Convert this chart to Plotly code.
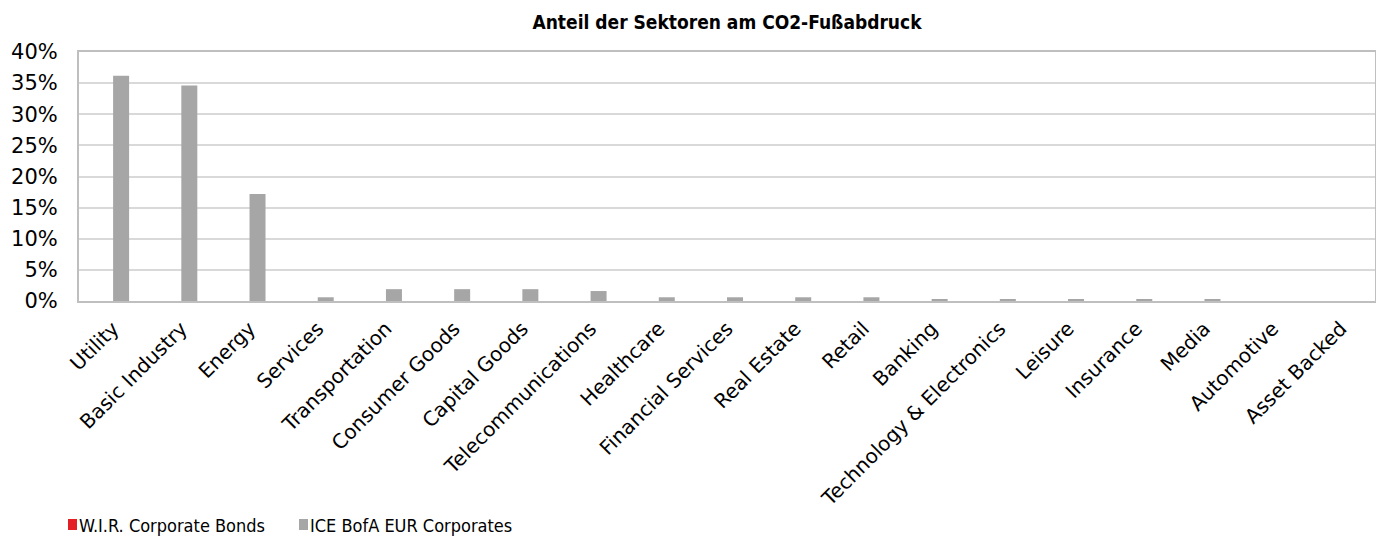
import plotly.graph_objects as go

categories = ["Utility", "Basic Industry", "Energy", "Services", "Transportation",
              "Consumer Goods", "Capital Goods", "Telecommunications", "Healthcare",
              "Financial Services", "Real Estate", "Retail", "Banking",
              "Technology & Electronics", "Leisure", "Insurance", "Media",
              "Automotive", "Asset Backed"]
wir_values = [0.0] * len(categories)
ice_values = [0.362, 0.346, 0.172, 0.006, 0.019, 0.019, 0.019, 0.016, 0.006,
              0.006, 0.006, 0.006, 0.002, 0.002, 0.002, 0.002, 0.002, 0.0, 0.0]
y_ticks = [0, 0.05, 0.10, 0.15, 0.20, 0.25, 0.30, 0.35, 0.40]
series_names = ["W.I.R. Corporate Bonds", "ICE BofA EUR Corporates"]
series_colors = ["#e31e24", "#a6a6a6"]

# page has an 8px body margin; figure sized so it fills the 1384x540 window
OFF = 8
W, H = 1384 - OFF, 540 - OFF
L, R, T, B = 79 - OFF, 9, 52 - OFF, 239
PW, PH = W - L - R, H - T - B

def px_x(px):
    return (px - OFF - L) / PW

def px_y(py):
    return (H - B - (py - OFF)) / PH

fig = go.Figure()
for name, vals, col in zip(series_names, [wir_values, ice_values], series_colors):
    fig.add_trace(go.Bar(x=categories, y=vals, name=name,
                         marker=dict(color=col, line=dict(width=0))))

# manual legend (square next to text, like the reference)
legend_x = [68, 299]
for lx, name, col in zip(legend_x, series_names, series_colors):
    fig.add_shape(type="rect", xref="paper", yref="paper",
                  x0=px_x(lx), x1=px_x(lx + 9), y0=px_y(530), y1=px_y(519),
                  fillcolor=col, line=dict(width=0))
    fig.add_annotation(text=name, xref="paper", yref="paper",
                       x=px_x(lx + 9), y=px_y(525), xanchor="left", yanchor="middle",
                       showarrow=False,
                       font=dict(family="DejaVu Sans Condensed, sans-serif",
                                 size=18, color="black"))

fig.update_layout(
    width=W, height=H,
    paper_bgcolor="white", plot_bgcolor="white",
    margin=dict(l=L, r=R, t=T, b=B, autoexpand=False),
    barmode="group", bargap=0.531, bargroupgap=0,
    title=dict(text="<b>Anteil der Sektoren am CO2-Fußabdruck</b>",
               x=0.5, xanchor="center", xref="paper",
               y=1 - (22 - OFF) / H, yref="container", yanchor="middle",
               font=dict(family="DejaVu Sans Condensed, sans-serif",
                         size=19, color="black")),
    font=dict(family="DejaVu Sans, Verdana, sans-serif", color="black"),
    showlegend=False,
)
fig.update_xaxes(tickangle=-45, tickfont=dict(size=20), ticklabelstandoff=6,
                 automargin=False,
                 showline=True, linecolor="#bfbfbf", linewidth=2, mirror=True,
                 ticks="", showgrid=False)
fig.update_yaxes(range=[0, 0.40], tickvals=y_ticks, tickformat=".0%",
                 tickfont=dict(size=21), ticklabelstandoff=15, automargin=False,
                 showgrid=True, gridcolor="#d9d9d9",
                 gridwidth=1.5, showline=True, linecolor="#bfbfbf", linewidth=2,
                 mirror=True, zeroline=False, ticks="")

fig.write_html("out.html")
